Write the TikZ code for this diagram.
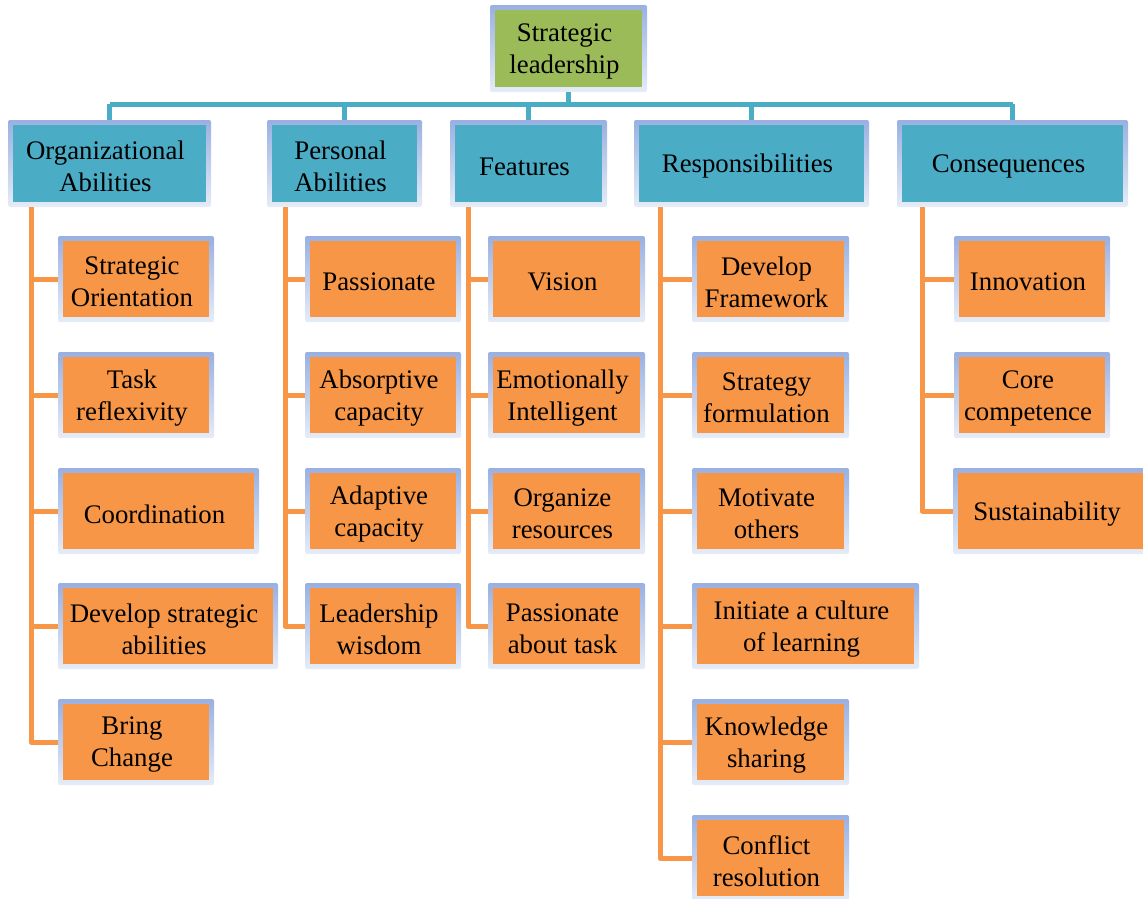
\documentclass[tikz,border=0pt]{standalone}
\usepackage{fontspec}
\setmainfont{LiberationSerif}[Extension=.ttf, UprightFont=*-Regular, BoldFont=*-Bold]
\definecolor{teal}{HTML}{4BACC6}
\definecolor{orng}{HTML}{F79646}
\definecolor{grn}{HTML}{9BBB59}
\definecolor{frmT}{HTML}{98B0E2}
\definecolor{frmB}{HTML}{E6ECF7}
\tikzset{
  frame/.style={rectangle, rounded corners=2pt, top color=frmT, bottom color=frmB, draw=none, inner sep=0pt, outer sep=0pt},
  txt/.style={align=center, font=\fontsize{26.8}{32}\selectfont, inner sep=0pt, text=black},
  tealline/.style={draw=teal, line width=5pt},
  orline/.style={draw=orng, line width=5pt, line join=round},
}
\newcommand\mybox[7]{%
  \node[frame, minimum width=#5pt, minimum height=#6pt, anchor=north west] (#1) at (#3,#4) {};
  \node[fill=#2, minimum width=#5pt-10pt, minimum height=#6pt-10pt, inner sep=0pt] (#1-in) at (#1.center) {};
  \node[txt] (#1-t) at ([xshift=-4pt,yshift=-3pt]#1.center) {#7};
}
\begin{document}
\begin{tikzpicture}[x=1pt,y=-1pt]
\useasboundingbox (0,0) rectangle (1143,898);
\coordinate (bus) at (0,104);
\coordinate (orgx) at (31,0);
\coordinate (persx) at (285,0);
\coordinate (featx) at (468,0);
\coordinate (respx) at (660,0);
\coordinate (consx) at (922,0);
% top
\mybox{top}{grn}{490}{5}{157}{87}{Strategic\\leadership}
% categories
\mybox{org}{teal}{8}{120}{203}{87}{Organizational\\Abilities}
\mybox{pers}{teal}{267}{120}{155}{87}{Personal\\Abilities}
\mybox{feat}{teal}{450}{120}{157}{87}{Features}
\mybox{resp}{teal}{634}{120}{235}{87}{Responsibilities}
\mybox{cons}{teal}{897}{120}{231}{87}{Consequences}
% blue connectors
\draw[tealline] (top.south) -- (top.south |- bus);
\draw[tealline] (org.north |- bus) -- (cons.north |- bus);
\foreach \n in {org,pers,feat,resp,cons}{
  \draw[tealline] (\n.north |- bus) -- (\n.north);
}
% Organizational children
\mybox{o1}{orng}{58}{236}{156}{86}{Strategic\\Orientation}
\mybox{o2}{orng}{58}{352}{156}{86}{Task\\reflexivity}
\mybox{o3}{orng}{58}{468}{201}{86}{Coordination}
\mybox{o4}{orng}{58}{583}{220}{86}{Develop strategic\\abilities}
\mybox{o5}{orng}{58}{699}{156}{86}{Bring\\Change}
% Personal children
\mybox{p1}{orng}{305}{236}{156}{86}{Passionate}
\mybox{p2}{orng}{305}{352}{156}{86}{Absorptive\\capacity}
\mybox{p3}{orng}{305}{468}{156}{86}{Adaptive\\capacity}
\mybox{p4}{orng}{305}{583}{156}{86}{Leadership\\wisdom}
% Features children
\mybox{f1}{orng}{488}{236}{157}{86}{Vision}
\mybox{f2}{orng}{488}{352}{157}{86}{Emotionally\\Intelligent}
\mybox{f3}{orng}{488}{468}{157}{86}{Organize\\resources}
\mybox{f4}{orng}{488}{583}{157}{86}{Passionate\\about task}
% Responsibilities children
\mybox{r1}{orng}{692}{236}{157}{86}{Develop\\Framework}
\mybox{r2}{orng}{692}{352}{157}{86}{Strategy\\formulation}
\mybox{r3}{orng}{692}{468}{157}{86}{Motivate\\others}
\mybox{r4}{orng}{692}{583}{227}{86}{Initiate a culture\\of learning}
\mybox{r5}{orng}{692}{699}{157}{86}{Knowledge\\sharing}
\mybox{r6}{orng}{692}{815}{157}{86}{Conflict\\resolution}
% Consequences children
\mybox{c1}{orng}{954}{236}{156}{86}{Innovation}
\mybox{c2}{orng}{954}{352}{156}{86}{Core\\competence}
\mybox{c3}{orng}{953}{468}{196}{86}{Sustainability}
% orange connectors
\foreach \c in {o1,o2,o3,o4,o5}{\draw[orline] (org.south -| orgx) |- (\c.west);}
\foreach \c in {p1,p2,p3,p4}{\draw[orline] (pers.south -| persx) |- (\c.west);}
\foreach \c in {f1,f2,f3,f4}{\draw[orline] (feat.south -| featx) |- (\c.west);}
\foreach \c in {r1,r2,r3,r4,r5,r6}{\draw[orline] (resp.south -| respx) |- (\c.west);}
\foreach \c in {c1,c2,c3}{\draw[orline] (cons.south -| consx) |- (\c.west);}
\end{tikzpicture}
\end{document}
